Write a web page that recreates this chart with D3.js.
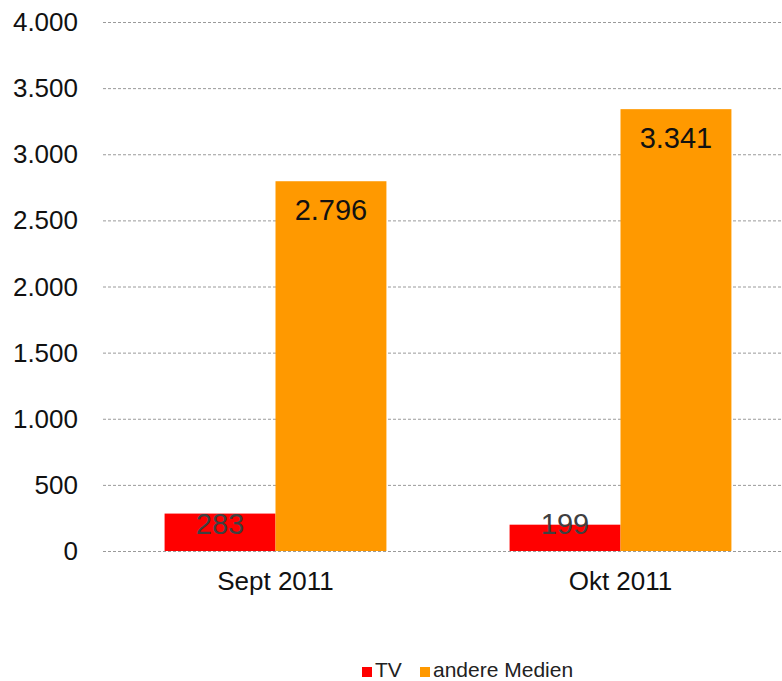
<!DOCTYPE html>
<html>
<head>
<meta charset="utf-8">
<script src="https://cdn.jsdelivr.net/npm/d3@7"></script>
<style>
  body { margin: 0; background: #fff; }
  svg { display: block; font-family: "Liberation Sans", Arial, sans-serif; }
</style>
</head>
<body>
<div class="canvas"></div>
<script>
// data
const categories = ["Sept 2011", "Okt 2011"];
const seriesNames = ["TV", "andere Medien"];
const tvValues = [283, 199];
const otherValues = [2796, 3341];
const yTicks = [0, 500, 1000, 1500, 2000, 2500, 3000, 3500, 4000];

const colors = ["#ff0000", "#ff9900"];
const labelColors = ["#404040", "#111111"];

const dims = { width: 782, height: 681 };

const svg = d3
  .select(".canvas")
  .append("svg")
  .attr("width", dims.width)
  .attr("height", dims.height);

const y = d3.scaleLinear().domain([0, 4000]).range([551, 22]);

const x = d3
  .scaleBand()
  .domain(categories)
  .range([103, 793])
  .paddingInner(0.357)
  .paddingOuter(0.1785);

const xSub = d3
  .scaleBand()
  .domain(seriesNames)
  .range([0, x.bandwidth()]);

const fmt = (v) => d3.format(",")(v).replace(/,/g, ".");

// Gridlines
svg
  .append("g")
  .selectAll("line")
  .data(yTicks)
  .enter()
  .append("line")
  .attr("x1", 103)
  .attr("x2", dims.width)
  .attr("y1", (d) => y(d) + 0.5)
  .attr("y2", (d) => y(d) + 0.5)
  .attr("stroke", "#9a9a9a")
  .attr("stroke-width", 1)
  .attr("stroke-dasharray", "3,2");

// Y tick labels
svg
  .append("g")
  .selectAll("text")
  .data(yTicks)
  .enter()
  .append("text")
  .attr("x", 78)
  .attr("y", (d) => y(d) + 9)
  .attr("text-anchor", "end")
  .attr("font-size", 26)
  .attr("fill", "#111")
  .text((d) => fmt(d));

// Bars
const rows = categories.map((c, i) => ({
  cat: c,
  vals: [tvValues[i], otherValues[i]],
}));

const groups = svg
  .append("g")
  .selectAll("g")
  .data(rows)
  .enter()
  .append("g")
  .attr("transform", (d) => `translate(${x(d.cat)},0)`);

groups
  .selectAll("rect")
  .data((d) => d.vals.map((v, j) => ({ v, s: seriesNames[j], j })))
  .enter()
  .append("rect")
  .attr("x", (d) => xSub(d.s))
  .attr("width", xSub.bandwidth())
  .attr("y", (d) => y(d.v))
  .attr("height", (d) => y(0) - y(d.v))
  .attr("fill", (d) => colors[d.j]);

// Value labels
groups
  .selectAll("text")
  .data((d) => d.vals.map((v, j) => ({ v, s: seriesNames[j], j })))
  .enter()
  .append("text")
  .attr("x", (d) => xSub(d.s) + xSub.bandwidth() / 2)
  .attr("y", (d) => Math.min(y(d.v) + 39, y(0) - 17))
  .attr("text-anchor", "middle")
  .attr("font-size", 29)
  .attr("fill", (d) => labelColors[d.j])
  .text((d) => fmt(d.v));

// X labels
svg
  .append("g")
  .selectAll("text")
  .data(categories)
  .enter()
  .append("text")
  .attr("x", (d) => x(d) + x.bandwidth() / 2)
  .attr("y", 590)
  .attr("text-anchor", "middle")
  .attr("font-size", 26)
  .attr("fill", "#111")
  .text((d) => d);

// Legend
const legendPos = [362, 420];
const legend = svg
  .append("g")
  .selectAll("g")
  .data(seriesNames)
  .enter()
  .append("g")
  .attr("transform", (d, i) => `translate(${legendPos[i]}, 667)`);

legend
  .append("rect")
  .attr("width", 10)
  .attr("height", 10)
  .attr("fill", (d, i) => colors[i]);

legend
  .append("text")
  .attr("x", 13)
  .attr("y", 10)
  .attr("font-size", 21)
  .attr("fill", "#222")
  .text((d) => d);
</script>
</body>
</html>
